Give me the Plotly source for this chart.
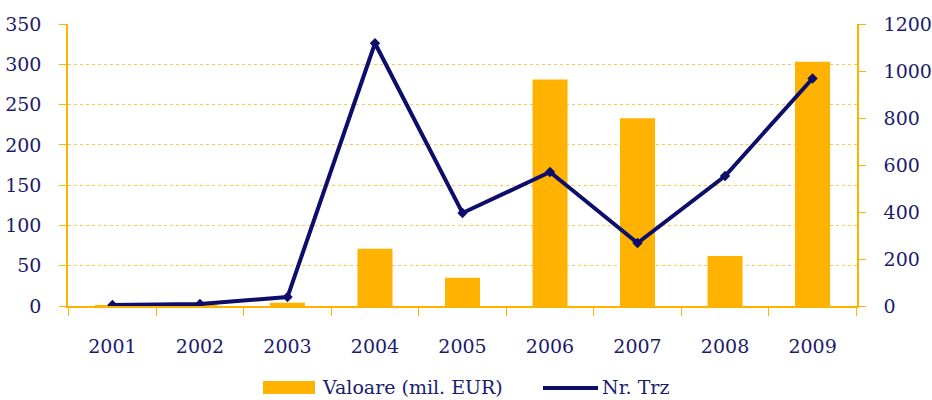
import plotly.graph_objects as go

years = ["2001", "2002", "2003", "2004", "2005", "2006", "2007", "2008", "2009"]
valoare = [0.5, 0.5, 4, 71, 35, 281, 233, 62, 303]
nr_trz = [4, 9, 38, 1118, 396, 570, 268, 553, 968]
legend_labels = ["Valoare (mil. EUR)", "Nr. Trz"]

ORANGE = "#FFB300"
GRID = "#FFC84A"
NAVY = "#0D0D6B"
TXT = "#1B1B6E"
FONT = "DejaVu Serif"
FS = 19

W, H = 932, 400
ML, MR, MT, MB = 68, 75, 24, 94
PW, PH = W - ML - MR, H - MT - MB


def px(x):
    return (x - ML) / PW


def py(y):
    return (H - MB - y) / PH


fig = go.Figure()
fig.add_trace(go.Bar(x=years, y=valoare, name=legend_labels[0],
                     marker=dict(color=ORANGE, line=dict(width=0)), width=0.4,
                     yaxis="y"))
fig.add_trace(go.Scatter(x=years, y=nr_trz, name=legend_labels[1], mode="lines+markers",
                         line=dict(color=NAVY, width=4),
                         marker=dict(symbol="diamond", size=8, color=NAVY),
                         yaxis="y2"))

# manual legend (paper coordinates)
shapes = [
    dict(type="rect", xref="paper", yref="paper", x0=px(263), x1=px(315),
         y0=py(394), y1=py(381), fillcolor=ORANGE, line=dict(width=0)),
    dict(type="line", xref="paper", yref="paper", x0=px(543), x1=px(598),
         y0=py(388), y1=py(388), line=dict(color=NAVY, width=4)),
]
annotations = [
    dict(xref="paper", yref="paper", x=px(320), y=py(387), xanchor="left", yanchor="middle",
         text=legend_labels[0], showarrow=False, font=dict(family=FONT, size=FS, color=TXT)),
    dict(xref="paper", yref="paper", x=px(600), y=py(387), xanchor="left", yanchor="middle",
         text=legend_labels[1], showarrow=False, font=dict(family=FONT, size=FS, color=TXT)),
]
fig.add_trace(go.Scatter(x=[px(571)], y=[py(388)], xaxis="x2", yaxis="y3", mode="markers",
                         marker=dict(symbol="diamond", size=8, color=NAVY),
                         showlegend=False, hoverinfo="skip", cliponaxis=False))

fig.update_layout(
    width=W, height=H,
    margin=dict(l=ML, r=MR, t=MT, b=MB),
    plot_bgcolor="white", paper_bgcolor="white",
    font=dict(family=FONT, size=FS, color=TXT),
    showlegend=False,
    shapes=shapes, annotations=annotations,
    xaxis=dict(type="category", showline=True, linecolor=ORANGE, linewidth=1.5,
               ticks="outside", tickson="boundaries", ticklen=8, tickcolor=ORANGE,
               showgrid=False, ticklabelstandoff=22, tickfont=dict(size=FS, color=TXT),
               automargin=False),
    yaxis=dict(range=[0, 350], dtick=50, showline=True, linecolor=ORANGE, linewidth=1.5,
               ticks="outside", ticklen=7, tickcolor=ORANGE,
               showgrid=True, gridcolor=GRID, griddash="dot", gridwidth=1,
               zeroline=False, ticklabelstandoff=14, tickfont=dict(size=FS, color=TXT),
               automargin=False),
    yaxis2=dict(range=[0, 1200], dtick=200, overlaying="y", side="right",
                showline=True, linecolor=ORANGE, linewidth=1.5,
                ticks="outside", ticklen=7, tickcolor=ORANGE,
                showgrid=False, zeroline=False, ticklabelstandoff=14,
                tickfont=dict(size=FS, color=TXT), automargin=False),
    xaxis2=dict(overlaying="x", range=[0, 1], visible=False, fixedrange=True),
    yaxis3=dict(overlaying="y", range=[0, 1], visible=False, fixedrange=True),
)

fig.write_html("out.html", config={"displayModeBar": False},
               post_script="document.body.style.margin='0';document.body.style.overflow='hidden';"
                           "document.documentElement.style.overflow='hidden';")
